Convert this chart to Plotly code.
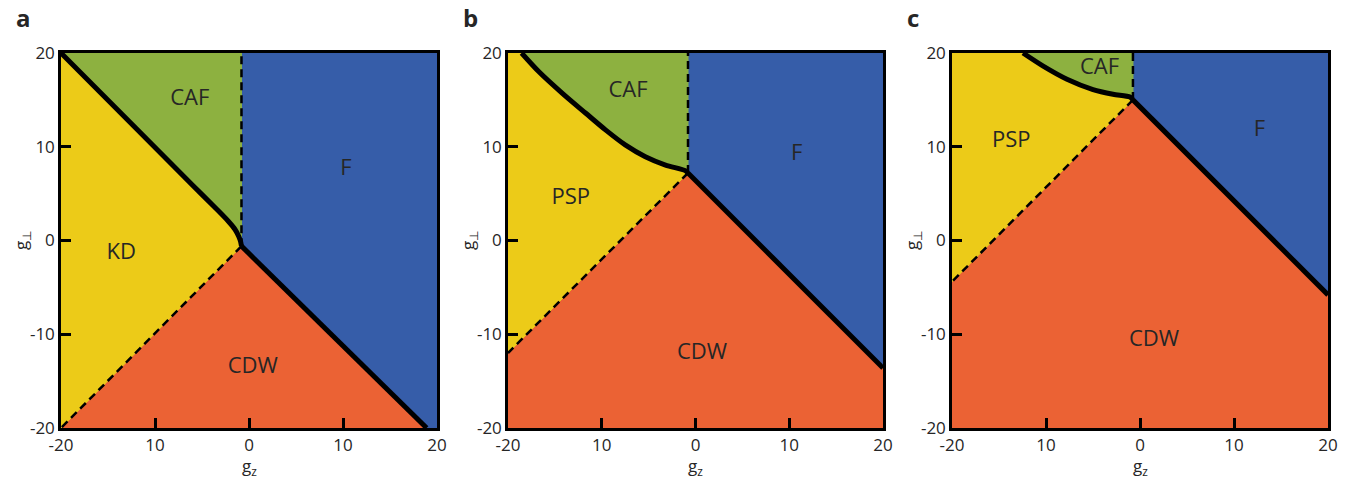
import plotly.graph_objects as go

# Axis ticks
x_tick_vals = [-20, -10, 0, 10, 20]
x_tick_text = ["-20", "10", "0", "10", "20"]
y_tick_vals = [20, 10, 0, -10, -20]
y_tick_text = ["20", "10", "0", "-10", "-20"]

# Panel a: phase boundaries (g_z, g_perp)
a_upper_x = [-20, -12, -6, -3.4, -2.2, -1.5, -1.1, -0.9, -0.8]
a_upper_y = [20, 11.95, 5.9, 3.3, 2.05, 1.2, 0.45, -0.1, -0.6]
a_thick_end = (18.9, -20)
a_dash_end = (-20, -20)
a_labels = ["CAF", "F", "KD", "CDW"]
a_label_x = [-6.3, 10.3, -13.6, 0.4]
a_label_y = [15.0, 7.6, -1.4, -13.5]

# Panel b
b_upper_x = [-18.55, -16.7, -14.2, -11.7, -9.6, -7.5, -5.35, -3.2, -1.09, -0.8]
b_upper_y = [20, 18.0, 15.7, 13.57, 11.8, 10.2, 8.94, 8.05, 7.45, 7.2]
b_thick_end = (20, -13.6)
b_dash_end = (-20, -12.0)
b_labels = ["CAF", "F", "PSP", "CDW"]
b_label_x = [-7.2, 10.8, -13.3, 0.7]
b_label_y = [15.9, 9.2, 4.5, -12.0]

# Panel c
c_upper_x = [-12.45, -10.3, -7.77, -5.0, -2.87, -1.06, -0.75]
c_upper_y = [20, 18.6, 17.2, 16.1, 15.6, 15.3, 15.0]
c_thick_end = (20, -5.8)
c_dash_end = (-20, -4.4)
c_labels = ["CAF", "F", "PSP", "CDW"]
c_label_x = [-4.3, 12.7, -13.7, 1.5]
c_label_y = [18.3, 11.7, 10.6, -10.7]

panels = [
    ("a", a_upper_x, a_upper_y, a_thick_end, a_dash_end, a_labels, a_label_x, a_label_y),
    ("b", b_upper_x, b_upper_y, b_thick_end, b_dash_end, b_labels, b_label_x, b_label_y),
    ("c", c_upper_x, c_upper_y, c_thick_end, c_dash_end, c_labels, c_label_x, c_label_y),
]

YELLOW = "#ECCB18"
GREEN = "#8DB140"
BLUE = "#365DA9"
ORANGE = "#EB6234"
TEXT = "#262626"
FONT = "Open Sans"

# pixel-derived domains for the three panels
x_domains = [[61 / 1370, 437 / 1370], [508 / 1370, 883 / 1370], [952 / 1370, 1328 / 1370]]
y_domain = [(487 - 428) / 487, (487 - 53) / 487]

fig = go.Figure()


def poly(xs, ys, color, xa, ya):
    fig.add_trace(go.Scatter(
        x=xs + [xs[0]], y=ys + [ys[0]], mode="lines", fill="toself",
        fillcolor=color, line=dict(color=color, width=1),
        xaxis=xa, yaxis=ya, hoverinfo="skip", showlegend=False))


for i, (letter, ux, uy, t_end, d_end, labels, lx, ly) in enumerate(panels):
    xa = "x" if i == 0 else f"x{i + 1}"
    ya = "y" if i == 0 else f"y{i + 1}"
    jx, jy = ux[-1], uy[-1]

    # F (blue)
    poly([jx, 20, 20, t_end[0], jx], [20, 20, t_end[1], t_end[1], jy], BLUE, xa, ya)
    # CDW (orange)
    poly([d_end[0], jx, t_end[0], t_end[0], -20],
         [d_end[1], jy, t_end[1], -20, -20], ORANGE, xa, ya)
    # lower-left phase (yellow)
    poly([-20] + ux + [d_end[0]], [20] + uy + [d_end[1]], YELLOW, xa, ya)
    # CAF (green)
    poly(ux + [jx], uy + [20], GREEN, xa, ya)

    # dashed boundaries
    fig.add_trace(go.Scatter(x=[jx, jx], y=[jy, 20], mode="lines",
                             line=dict(color="black", width=2.5, dash="8px,5px"),
                             xaxis=xa, yaxis=ya, hoverinfo="skip", showlegend=False))
    fig.add_trace(go.Scatter(x=[jx, d_end[0]], y=[jy, d_end[1]], mode="lines",
                             line=dict(color="black", width=2.5, dash="8px,5px"),
                             xaxis=xa, yaxis=ya, hoverinfo="skip", showlegend=False))
    # thick boundaries
    fig.add_trace(go.Scatter(x=ux, y=uy, mode="lines",
                             line=dict(color="black", width=5, shape="spline", smoothing=0.8),
                             xaxis=xa, yaxis=ya, hoverinfo="skip", showlegend=False))
    fig.add_trace(go.Scatter(x=[jx, t_end[0]], y=[jy, t_end[1]], mode="lines",
                             line=dict(color="black", width=5),
                             xaxis=xa, yaxis=ya, hoverinfo="skip", showlegend=False))

    # phase labels
    fig.add_trace(go.Scatter(x=lx, y=ly, mode="text", text=labels,
                             textfont=dict(family=FONT, size=22, color=TEXT),
                             xaxis=xa, yaxis=ya, hoverinfo="skip", showlegend=False))

    axis_common = dict(range=[-20, 20], showgrid=False, zeroline=False, showline=True,
                       mirror=True, linecolor="black", linewidth=2.5, ticks="inside",
                       ticklen=10, tickwidth=2.5, tickcolor="black", automargin=False,
                       tickfont=dict(family=FONT, size=17, color=TEXT))
    fig.layout[f"xaxis{'' if i == 0 else i + 1}"] = dict(
        axis_common, domain=x_domains[i], anchor=ya,
        tickmode="array", tickvals=x_tick_vals, ticktext=x_tick_text)
    fig.layout[f"yaxis{'' if i == 0 else i + 1}"] = dict(
        axis_common, domain=y_domain, anchor=xa,
        tickmode="array", tickvals=y_tick_vals, ticktext=y_tick_text)

    left_px = x_domains[i][0] * 1370
    right_px = x_domains[i][1] * 1370
    # panel letter
    fig.add_annotation(text=f"<b>{letter}</b>", xref="paper", yref="paper",
                       x=(left_px - 47) / 1370, y=(487 - 18) / 487,
                       xanchor="left", yanchor="middle", showarrow=False,
                       font=dict(family=FONT, size=24, color=TEXT))
    # axis titles
    fig.add_annotation(text="g<sub>z</sub>", xref="paper", yref="paper",
                       x=(left_px + right_px) / 2 / 1370, y=(487 - 466) / 487,
                       xanchor="center", yanchor="middle", showarrow=False,
                       font=dict(family=FONT, size=17, color=TEXT))
    fig.add_annotation(text="g<sub>⊥</sub>", xref="paper", yref="paper",
                       x=(left_px - 39) / 1370, y=(487 - 241) / 487, textangle=-90,
                       xanchor="center", yanchor="middle", showarrow=False,
                       font=dict(family=FONT, size=17, color=TEXT))

fig.update_layout(width=1370, height=487, margin=dict(l=0, r=0, t=0, b=0),
                  paper_bgcolor="white", plot_bgcolor=BLUE, showlegend=False)

fig.write_html("out.html")
